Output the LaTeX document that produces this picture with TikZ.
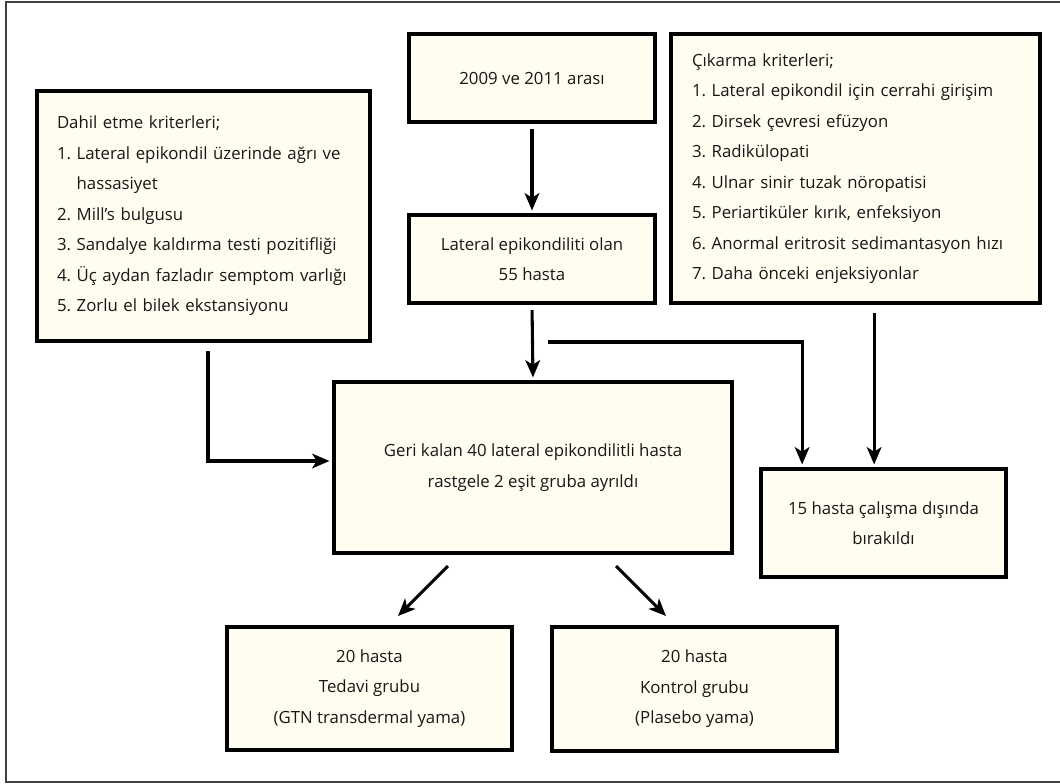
\documentclass[tikz,border=0pt]{standalone}
\usepackage{fontspec}
\setmainfont{Open Sans}
\frenchspacing
\usetikzlibrary{arrows.meta,calc}
\definecolor{boxfill}{RGB}{255,253,240}
\definecolor{txt}{RGB}{25,22,23}
\tikzset{
  fbox/.style={draw=black, line width=2.8pt, fill=boxfill, text=txt, inner sep=0pt,
    font=\fontsize{12.6}{22.9}\selectfont\frenchspacing, align=center},
  conn/.style={line width=2.3pt, -{Stealth[length=13pt,width=11pt,inset=3.5pt]}},
  frame/.style={draw=black!75, line width=1.2pt}
}
\begin{document}
\begin{tikzpicture}[x=0.75pt,y=-0.75pt]
\useasboundingbox (0,0) rectangle (1060,783);
\draw[frame] (1070,2) -- (6,2) -- (6,782) -- (1070,782);

\node[fbox, minimum width=249.75pt, minimum height=187.5pt, align=left, text width=219.75pt] (dahil) at (203.5,216)
 {\mbox{Dahil etme kriterleri;}\\
  \mbox{1. Lateral epikondil üzerinde ağrı ve}\\
  \mbox{\phantom{1. }hassasiyet}\\
  \mbox{2. Mill’s bulgusu}\\
  \mbox{3. Sandalye kaldırma testi pozitifliği}\\
  \mbox{4. Üç aydan fazladır semptom varlığı}\\
  \mbox{5. Zorlu el bilek ekstansiyonu}};

\node[fbox, minimum width=184.5pt, minimum height=66pt] (y2009) at (532,78) {2009 ve 2011 arası};
\node[fbox, minimum width=184.5pt, minimum height=66pt] (lat) at (532,259) {Lateral epikondiliti olan\\55 hasta};

\node[fbox, minimum width=276.75pt, minimum height=201.75pt, align=left, text width=245.25pt] (cik) at (855.5,168.5)
 {\mbox{Çıkarma kriterleri;}\\
  \mbox{1. Lateral epikondil için cerrahi girişim}\\
  \mbox{2. Dirsek çevresi efüzyon}\\
  \mbox{3. Radikülopati}\\
  \mbox{4. Ulnar sinir tuzak nöropatisi}\\
  \mbox{5. Periartiküler kırık, enfeksiyon}\\
  \mbox{6. Anormal eritrosit sedimantasyon hızı}\\
  \mbox{7. Daha önceki enjeksiyonlar}};

\node[fbox, minimum width=298.5pt, minimum height=128.25pt] (cent) at (533,467.5)
 {Geri kalan 40 lateral epikondilitli hasta\\rastgele 2 eşit gruba ayrıldı};

\node[fbox, minimum width=183.75pt, minimum height=81pt] (exc) at (883.5,523)
 {15 hasta çalışma dışında\\bırakıldı};

\node[fbox, minimum width=213.75pt, minimum height=92.25pt] (tg) at (369.5,688.5)
 {20 hasta\\Tedavi grubu\\(GTN transdermal yama)};
\node[fbox, minimum width=213.75pt, minimum height=93pt] (kg) at (694.5,689)
 {20 hasta\\Kontrol grubu\\(Plasebo yama)};

% connectors
\draw[conn, shorten <=4pt, shorten >=2pt] (y2009.south) -- (lat.north);
\draw[conn, shorten <=4pt, shorten >=2pt] (lat.south) -- (cent.north);

\coordinate (bstart) at (548,342);
\draw[conn, shorten >=2pt] (bstart) -| ($(exc.north west)+(43,0)$);

\draw[conn, shorten <=6pt, shorten >=2pt] ($(cik.south west)+(205,0)$) -- ($(exc.north west)+(115,0)$);

\coordinate (dstart) at (208,351);
\draw[conn, shorten >=2pt] (dstart) |- ($(cent.west)+(0,-6.5)$);

\coordinate (d1a) at (448,566);
\coordinate (d1b) at (398,616);
\coordinate (d2a) at (616,566);
\coordinate (d2b) at (666,616);
\draw[conn] (d1a) -- (d1b);
\draw[conn] (d2a) -- (d2b);
\end{tikzpicture}
\end{document}
